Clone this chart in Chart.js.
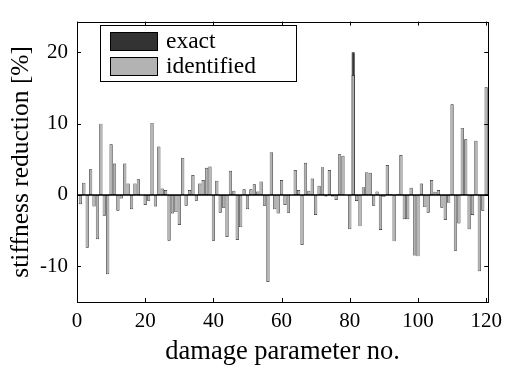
<!DOCTYPE html>
<html>
<head>
<meta charset="utf-8">
<script src="https://cdn.jsdelivr.net/npm/chart.js@4/dist/chart.umd.min.js"></script>
<style>
  html, body { margin: 0; padding: 0; background: #fff; }
  #wrap { width: 509px; height: 369px; }
</style>
</head>
<body>
<div id="wrap"><canvas id="myChart" width="509" height="369"></canvas></div>
<script>
// identified stiffness reduction [%] for damage parameters 1..120
var identified = [
  -1.3, 1.7, -7.4, 3.6, -1.6, -6.2, 10.0, -2.9, -11.1, 7.1,
  4.4, -2.2, -0.5, 4.4, 1.6, -2.0, 1.6, 2.2, 0, -1.4,
  -0.8, 10.1, -1.6, 6.8, 0.9, 0.7, -6.4, -2.6, -2.4, -4.2,
  5.2, -1.5, 0.7, 2.8, -0.8, 1.6, 2.1, 3.8, 4.0, -6.4,
  2.0, -2.5, -1.8, -5.9, 3.4, 0.6, -6.3, -4.5, 0.8, -2.0,
  0.8, 1.5, 0.5, 1.9, -1.5, -12.2, 6.0, -2.0, -2.6, 2.1,
  -1.4, -2.5, 0, 3.5, 0.7, -7.0, 4.5, 0.6, 2.3, -2.8,
  1.3, 3.9, -0.2, 3.5, -0.2, -0.7, 5.7, 5.5, 0, -4.8,
  16.8, -0.85, -4.4, 1.1, 3.2, 3.1, -1.5, 0.5, -4.9, -0.3,
  4.2, 0.1, -6.5, 0.1, 5.6, -3.4, -3.4, 1.0, -8.5, -8.6,
  1.6, -1.7, -2.5, 2.1, 0.45, 0.7, -1.8, -3.5, -1.1, 12.7,
  -7.8, -4.0, 9.4, 7.8, -4.8, -2.8, 7.6, -10.7, -2.2, 15.1
];
// exact damage: only one damaged parameter
var exactParams = [81];
var exactValues = [20];

var xTicks = [0, 20, 40, 60, 80, 100, 120];
var yTicks = [-10, 0, 10, 20];

var serif = 'Liberation Serif, Times New Roman, serif';

var identifiedData = identified.map(function(v, i) { return {x: i + 1, y: v}; });
var exactData = exactParams.map(function(p, i) { return {x: p, y: exactValues[i]}; });

// frame, inward ticks, zero baseline and legend box
var matlabAxes = {
  id: 'matlabAxes',
  afterDatasetsDraw: function(chart) {
    var ctx = chart.ctx;
    var a = chart.chartArea;
    var xs = chart.scales.x, ys = chart.scales.y;
    ctx.save();
    ctx.strokeStyle = '#000';

    // baseline
    var y0 = ys.getPixelForValue(0);
    ctx.lineWidth = 1.6;
    ctx.beginPath();
    ctx.moveTo(a.left, y0);
    ctx.lineTo(a.right, y0);
    ctx.stroke();

    ctx.lineWidth = 1;
    ctx.strokeRect(Math.round(a.left) + 0.5, Math.round(a.top) + 0.5,
                   Math.round(a.right - a.left), Math.round(a.bottom - a.top));
    var tl = 4;
    ctx.beginPath();
    xTicks.forEach(function(t) {
      var px = Math.round(xs.getPixelForValue(t)) + 0.5;
      ctx.moveTo(px, a.bottom); ctx.lineTo(px, a.bottom - tl);
      ctx.moveTo(px, a.top); ctx.lineTo(px, a.top + tl);
    });
    yTicks.forEach(function(t) {
      var py = Math.round(ys.getPixelForValue(t)) + 0.5;
      ctx.moveTo(a.left, py); ctx.lineTo(a.left + tl, py);
      ctx.moveTo(a.right, py); ctx.lineTo(a.right - tl, py);
    });
    ctx.stroke();

    // legend
    var ds = chart.data.datasets;
    ctx.fillStyle = '#fff';
    ctx.fillRect(101, 25, 196, 57);
    ctx.strokeRect(100.5, 25.5, 196, 56);
    ctx.font = '23.5px ' + serif;
    ctx.textBaseline = 'middle';
    ctx.textAlign = 'left';
    var rows = [ds[1], ds[0]];
    rows.forEach(function(d, k) {
      var top = 32 + k * 25;
      ctx.fillStyle = d.backgroundColor;
      ctx.fillRect(110, top, 47, 18);
      ctx.strokeRect(110.5, top + 0.5, 47, 18);
      ctx.fillStyle = '#000';
      ctx.fillText(d.label, 166, top + 10);
    });
    ctx.restore();
  }
};

var ctx = document.getElementById('myChart').getContext('2d');
new Chart(ctx, {
  type: 'bar',
  data: {
    datasets: [
      {
        label: 'identified',
        data: identifiedData,
        backgroundColor: '#b3b3b3',
        borderColor: '#1a1a1a',
        borderWidth: 0.7,
        borderSkipped: false,
        order: 0
      },
      {
        label: 'exact',
        data: exactData,
        backgroundColor: '#333333',
        borderColor: '#000',
        borderWidth: 0.7,
        borderSkipped: false,
        order: 1
      }
    ]
  },
  options: {
    responsive: false,
    animation: false,
    grouped: false,
    barPercentage: 1,
    categoryPercentage: 0.95,
    layout: { padding: { top: 5, right: 18, left: 0, bottom: 0 } },
    plugins: { legend: { display: false }, tooltip: { enabled: false } },
    scales: {
      x: {
        type: 'linear',
        min: 0,
        max: 120.6,
        offset: false,
        grid: { display: false, drawTicks: false },
        border: { display: false },
        afterBuildTicks: function(s) { s.ticks = xTicks.map(function(v) { return {value: v}; }); },
        afterFit: function(s) { s.height = 67; },
        ticks: { color: '#000', padding: 7, maxRotation: 0, autoSkip: false, font: { family: serif, size: 21 } },
        title: { display: true, text: 'damage parameter no.', color: '#000', padding: { top: 0, bottom: 1 }, font: { family: serif, size: 26.5 } }
      },
      y: {
        min: -15,
        max: 24.3,
        grid: { display: false, drawTicks: false },
        border: { display: false },
        afterBuildTicks: function(s) { s.ticks = yTicks.map(function(v) { return {value: v}; }); },
        afterFit: function(s) { s.width = 77; },
        ticks: { color: '#000', padding: 9, font: { family: serif, size: 21 } },
        title: { display: true, text: 'stiffness reduction [%]', color: '#000', padding: { top: 6, bottom: 0 }, font: { family: serif, size: 25.5 } }
      }
    }
  },
  plugins: [matlabAxes]
});
</script>
</body>
</html>
